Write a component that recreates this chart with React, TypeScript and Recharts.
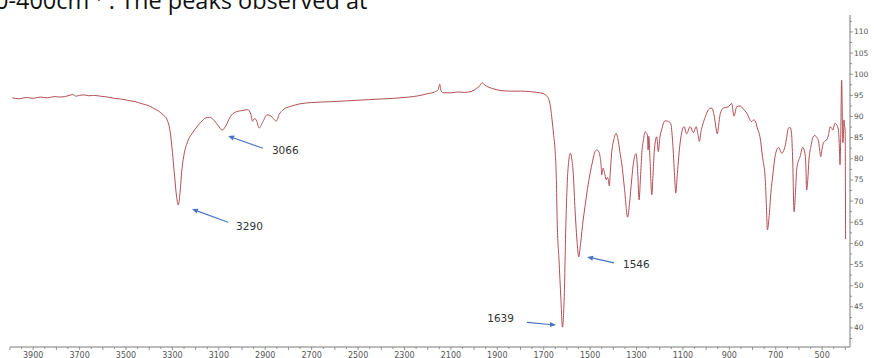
import React from 'react';
import { LineChart, Line, XAxis, YAxis, ReferenceLine } from 'recharts';

// IR spectrum: [wavenumber (cm-1), transmittance (%)]
const spectrumPoints: [number, number][] = [
  [3990, 94.4], [3960, 94.2], [3930, 94.5], [3900, 94.3], [3870, 94.6], [3840, 94.4],
  [3810, 94.7], [3780, 94.6], [3750, 94.9], [3730, 95.2], [3715, 94.8], [3700, 95.0],
  [3680, 95.1], [3660, 94.9], [3640, 95.0], [3610, 94.8], [3580, 94.6], [3550, 94.3],
  [3520, 94.1], [3490, 93.8], [3460, 93.5], [3430, 93.0], [3400, 92.5], [3383, 92.0],
  [3360, 91.3], [3340, 90.4], [3323, 89.2], [3310, 86.5], [3300, 81.5], [3290, 75.5],
  [3282, 71.0], [3275, 69.1], [3268, 71.5], [3260, 77.0], [3250, 81.0], [3235, 84.0],
  [3211, 86.3], [3180, 88.5], [3155, 89.7], [3140, 89.8], [3124, 89.3], [3105, 88.0],
  [3085, 86.8], [3070, 87.8], [3050, 90.0], [3030, 91.0], [3000, 91.4], [2975, 91.6],
  [2962, 90.5], [2955, 88.9], [2947, 89.5], [2940, 89.3], [2926, 87.3], [2910, 88.8],
  [2892, 90.4], [2875, 90.1], [2865, 89.5], [2853, 88.9], [2840, 90.5], [2823, 91.6],
  [2790, 92.4], [2750, 93.0], [2700, 93.3], [2620, 93.5], [2550, 93.7], [2450, 94.0],
  [2350, 94.3], [2280, 94.6], [2240, 94.9], [2200, 95.4], [2170, 95.8], [2155, 96.3],
  [2148, 97.6], [2142, 96.0], [2130, 95.6], [2100, 95.6], [2070, 95.8], [2040, 95.7],
  [2010, 96.0], [1990, 96.6], [1975, 97.3], [1965, 98.0], [1955, 97.5], [1940, 97.0],
  [1920, 96.6], [1900, 96.3], [1880, 96.1], [1840, 96.0], [1800, 96.0], [1760, 95.9],
  [1730, 95.7], [1707, 95.5], [1690, 95.0], [1680, 94.3], [1670, 92.0], [1664, 89.2],
  [1657, 85.5], [1651, 82.1], [1645, 74.0], [1642, 65.5], [1634, 56.1], [1626, 47.0],
  [1619, 40.2], [1612, 46.6], [1604, 65.5], [1598, 75.0], [1592, 79.5], [1585, 81.3],
  [1579, 80.0], [1572, 76.0], [1565, 68.0], [1557, 61.0], [1549, 56.8], [1541, 60.0],
  [1530, 65.5], [1522, 68.7], [1511, 73.0], [1500, 76.6], [1489, 79.5], [1479, 81.7],
  [1471, 82.1], [1462, 81.6], [1457, 80.5], [1452, 78.0], [1450, 76.2], [1446, 77.5],
  [1444, 77.8], [1436, 76.2], [1430, 75.0], [1426, 75.6], [1422, 75.2], [1417, 73.6],
  [1413, 77.0], [1407, 81.4], [1398, 84.5], [1388, 86.0], [1378, 84.0], [1370, 81.0],
  [1364, 79.0], [1352, 73.0], [1338, 66.2], [1330, 69.5], [1321, 75.0], [1312, 79.5],
  [1302, 81.2], [1295, 77.0], [1289, 70.3], [1283, 75.5], [1277, 81.4], [1270, 84.5],
  [1263, 86.4], [1256, 86.0], [1253, 85.6], [1250, 82.1], [1247, 85.3], [1242, 80.0],
  [1234, 71.5], [1229, 76.0], [1224, 81.4], [1213, 85.2], [1206, 81.7], [1199, 85.2],
  [1190, 87.2], [1181, 88.8], [1172, 89.0], [1163, 88.8], [1153, 88.4], [1144, 83.8],
  [1136, 76.0], [1131, 71.9], [1124, 76.5], [1112, 83.8], [1095, 87.6], [1084, 85.9],
  [1069, 87.6], [1055, 86.2], [1043, 87.6], [1036, 86.0], [1029, 84.1], [1022, 86.5],
  [1015, 88.0], [1003, 90.0], [990, 91.6], [976, 92.0], [966, 90.4], [957, 87.2],
  [952, 85.9], [946, 88.0], [940, 90.4], [926, 92.0], [904, 92.3], [890, 93.1],
  [880, 90.1], [868, 92.3], [854, 92.5], [840, 91.8], [825, 90.8], [804, 88.8],
  [795, 89.2], [789, 89.0], [778, 87.0], [768, 85.2], [756, 80.0], [746, 75.8],
  [740, 68.5], [736, 63.2], [729, 66.0], [721, 71.9], [712, 76.5], [703, 80.5],
  [688, 82.7], [681, 82.0], [674, 81.3], [667, 81.8], [660, 82.9], [653, 85.0],
  [646, 87.2], [638, 87.4], [632, 86.0], [627, 79.7], [621, 67.5], [615, 72.0],
  [610, 77.4], [602, 79.5], [595, 80.5], [584, 82.7], [574, 81.3], [570, 78.0],
  [567, 72.6], [562, 75.0], [557, 79.7], [548, 83.0], [539, 85.2], [531, 85.5],
  [524, 85.1], [516, 84.3], [512, 82.7], [506, 80.5], [500, 82.5], [495, 83.7],
  [488, 84.2], [480, 84.5], [472, 85.8], [466, 87.6], [460, 87.3], [454, 86.8],
  [450, 87.5], [445, 88.4], [437, 88.0], [430, 86.8], [426, 83.0], [423, 78.6],
  [420, 85.0], [416, 98.6], [413, 90.0], [411, 83.8], [408, 86.0], [406, 89.2],
  [404, 88.0], [401, 86.8], [399, 61.0],
];

const xLabelValues = [3900, 3700, 3500, 3300, 3100, 2900, 2700, 2500, 2300, 2100, 1900, 1700, 1500, 1300, 1100, 900, 700, 500];
const yLabelValues = [40, 45, 50, 55, 60, 65, 70, 75, 80, 85, 90, 95, 100, 105, 110];

// Peak annotations: label, arrow tail (wavenumber, %T), arrow head (wavenumber, %T)
const peakLabels = ['3290', '3066', '1639', '1546'];
const arrowTails: [number, number][] = [[3060, 65.0], [2910, 82.5], [1772, 41.3], [1397, 55.4]];
const arrowHeads: [number, number][] = [[3216, 68.1], [3060, 85.4], [1647, 40.7], [1513, 56.8]];

// styles for the annotation text placement (pixels relative to arrow tail)
const labelStyle = [
  { dx: 8, dy: 4, anchor: 'start' },
  { dx: 9, dy: 2, anchor: 'start' },
  { dx: -13, dy: -4, anchor: 'end' },
  { dx: 9, dy: 1, anchor: 'start' },
];

const chartData = spectrumPoints.map(([w, t]) => ({ w, t }));

const xTicks: number[] = [];
for (let v = 400; v <= 4000; v += 50) xTicks.push(v);
const yTicks: number[] = [];
for (let v = 37.5; v <= 112.5; v += 2.5) yTicks.push(v);

const AXIS = '#7a7a7a';
const ARROW = '#4a74c4';

const XTick = (props: any) => {
  const { x, y, payload } = props;
  const v = payload.value;
  const major = v % 100 === 0;
  const labeled = xLabelValues.includes(v);
  return (
    <g>
      <line x1={x} y1={y} x2={x} y2={y + (major ? 3 : 2)} stroke={AXIS} strokeWidth={0.8} />
      {labeled && (
        <text x={x} y={y + 11} textAnchor="middle" fontSize={8} fill="#555" fontFamily="DejaVu Sans">
          {v}
        </text>
      )}
    </g>
  );
};

const YTick = (props: any) => {
  const { x, y, payload } = props;
  const v = payload.value;
  const labeled = yLabelValues.includes(v);
  return (
    <g>
      <line x1={x} y1={y} x2={x + (labeled ? 3 : 2)} y2={y} stroke={AXIS} strokeWidth={0.8} />
      {labeled && (
        <text x={x + 4} y={y} dominantBaseline="central" fontSize={7.5} fill="#555" fontFamily="DejaVu Sans">
          {v}
        </text>
      )}
    </g>
  );
};

const makeArrow = (label: string, style: { dx: number; dy: number; anchor: string }) => (p: any) => {
  const { x1, y1, x2, y2 } = p;
  const ang = Math.atan2(y2 - y1, x2 - x1);
  const L = 6;
  const W = 2.6;
  const c = Math.cos(ang);
  const s = Math.sin(ang);
  const bx = x2 - L * c;
  const by = y2 - L * s;
  const pts = `${x2},${y2} ${bx - W * s},${by + W * c} ${bx + W * s},${by - W * c}`;
  return (
    <g>
      <line x1={x1} y1={y1} x2={bx} y2={by} stroke={ARROW} strokeWidth={1.2} />
      <polygon points={pts} fill={ARROW} />
      <text
        x={x1 + style.dx}
        y={y1 + style.dy}
        textAnchor={style.anchor as any}
        dominantBaseline="central"
        fontSize={10.5}
        fill="#333"
        fontFamily="DejaVu Sans"
      >
        {label}
      </text>
    </g>
  );
};

export default function App() {
  return (
    <div style={{ position: 'absolute', left: 0, top: 0, width: 874, height: 358, background: '#fff', overflow: 'hidden' }}>
      <LineChart width={874} height={358} data={chartData} margin={{ top: 15, right: 0, bottom: 0, left: 10 }}>
        <XAxis
          type="number"
          dataKey="w"
          domain={[380, 4000]}
          reversed
          allowDataOverflow
          ticks={xTicks}
          interval={0}
          height={11}
          tickSize={0}
          tickMargin={0}
          tickLine={false}
          tick={<XTick />}
          stroke={AXIS}
        />
        <YAxis
          type="number"
          orientation="right"
          domain={[35.5, 114]}
          allowDataOverflow
          ticks={yTicks}
          interval={0}
          width={24}
          tickSize={0}
          tickMargin={0}
          tickLine={false}
          tick={<YTick />}
          stroke={AXIS}
        />
        <Line
          type="monotone"
          dataKey="t"
          stroke="#b24f54"
          strokeWidth={1}
          dot={false}
          activeDot={false}
          isAnimationActive={false}
        />
        {peakLabels.map((label, i) => (
          <ReferenceLine
            key={label}
            segment={[
              { x: arrowTails[i][0], y: arrowTails[i][1] },
              { x: arrowHeads[i][0], y: arrowHeads[i][1] },
            ]}
            ifOverflow="visible"
            shape={makeArrow(label, labelStyle[i])}
          />
        ))}
      </LineChart>
      <svg width={874} height={30} style={{ position: 'absolute', left: 0, top: 0, pointerEvents: 'none' }}>
        <text x={-5} y={9.3} fontSize={23.5} fontFamily="Open Sans" fill="#111">
          0-400cm
          <tspan dy={-8} fontSize={15}>-1</tspan>
          <tspan dy={8} fontSize={23.5}> . The peaks observed at</tspan>
        </text>
      </svg>
    </div>
  );
}
